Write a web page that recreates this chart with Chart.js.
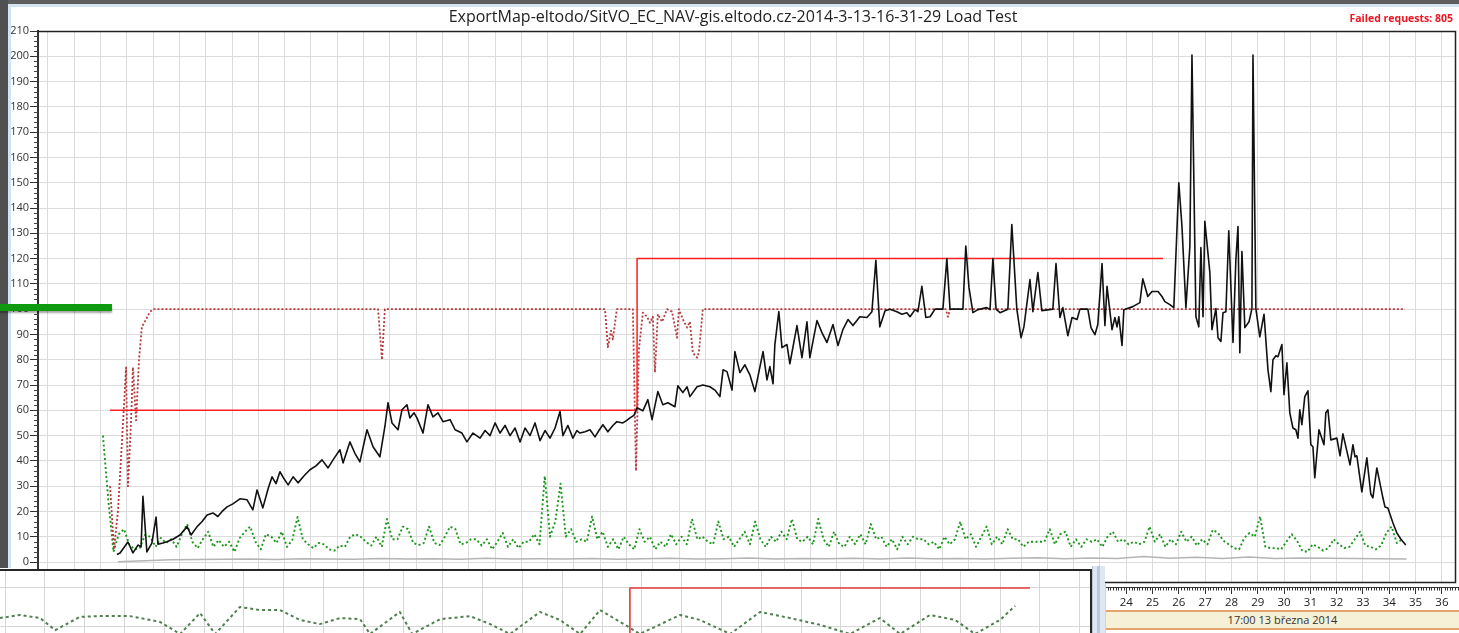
<!DOCTYPE html>
<html>
<head>
<meta charset="utf-8">
<script src="https://cdn.jsdelivr.net/npm/chart.js@4.4.1/dist/chart.umd.min.js"></script>
<style>
html,body{margin:0;padding:0;width:1459px;height:633px;overflow:hidden;background:#fff;}
#wrap{position:relative;width:1459px;height:633px;overflow:hidden;}
canvas{position:absolute;display:block;}
#main{left:0;top:0;}
.abs{position:absolute;}
#topbar{left:0;top:0;width:1459px;height:4px;background:#5e5e5e;}
#topline{left:0;top:4px;width:1459px;height:3px;background:#d2e3f3;}
#leftbar{left:0;top:0;width:8px;height:568px;background:#505050;}
#leftline{left:8px;top:4px;width:3px;height:564px;background:#d2e3f3;}
#failed{right:6px;top:11px;font:bold 10.5px 'Open Sans',sans-serif;color:#f0141e;white-space:nowrap;}
#greenbar{left:0;top:304px;width:112px;height:7px;background:#109a10;box-shadow:0 2px 2px rgba(0,0,0,0.35);}
#panelbox{left:0;top:569px;width:1090px;height:64px;background:#fff;border-top:2px solid #262626;border-right:2px solid #262626;}
#panel{left:0;top:571px;}
#splitter{left:1092px;top:566px;width:13px;height:67px;background:#dfe8f2;border-left:1px solid #b8c6d6;box-sizing:border-box;}
#splitter2{left:1097px;top:566px;width:3px;height:67px;background:#b9c8da;}
#rulerbg{left:1105px;top:584px;width:354px;height:49px;background:#fff;border-left:1px solid #c9d6e4;box-sizing:border-box;}
#ruler{left:1106px;top:584px;}
#band{left:1106px;top:610px;width:353px;height:16px;background:#f5f0d6;border-top:2px solid #e2a46c;border-bottom:2px solid #e2a46c;font:11px 'Open Sans',sans-serif;color:#333;text-align:center;line-height:16px;}
</style>
</head>
<body>
<div id="wrap">
<canvas id="main" width="1459" height="633"></canvas>
<div class="abs" id="topbar"></div>
<div class="abs" id="topline"></div>
<div class="abs" id="leftbar"></div>
<div class="abs" id="leftline"></div>
<div class="abs" id="failed">Failed requests: 805</div>
<div class="abs" id="greenbar"></div>
<div class="abs" id="panelbox"></div>
<canvas id="panel" width="1090" height="62"></canvas>
<div class="abs" id="splitter"></div>
<div class="abs" id="splitter2"></div>
<div class="abs" id="rulerbg"></div>
<div class="abs" id="band">17:00 13 března 2014</div>
<canvas id="ruler" width="353" height="26"></canvas>
</div>
<script>
// ---------------- data ----------------
const chartTitle = 'ExportMap-eltodo/SitVO_EC_NAV-gis.eltodo.cz-2014-3-13-16-31-29 Load Test';

// y-axis tick labels
const yTicks = [0,10,20,30,40,50,60,70,80,90,100,110,120,130,140,150,160,170,180,190,200,210];
// time ruler labels (minutes of 17:xx)
const rulerMinutes = [24,25,26,27,28,29,30,31,32,33,34,35,36];

// black series: response time (time in minutes, value)
const blackT = [2.62,2.74,3.04,3.23,3.42,3.54,3.61,3.76,3.95,4.11,4.18,4.37,4.52,4.75,5.02,5.29,5.44,5.67,5.86,6.05,
6.27,6.46,6.62,6.81,7.03,7.30,7.57,7.79,7.95,8.17,8.37,8.52,8.67,8.82,8.97,9.13,9.32,9.51,9.73,9.96,
10.19,10.42,10.65,10.84,11.10,11.22,11.48,11.67,11.86,12.13,12.36,12.62,12.81,12.93,13.08,13.31,13.46,13.65,13.76,13.92,
14.03,14.26,14.45,14.64,14.83,15.02,15.29,15.48,15.74,15.93,16.16,16.43,16.62,16.81,17.00,17.19,17.38,17.57,17.76,17.95,
18.14,18.33,18.52,18.71,18.90,19.09,19.28,19.47,19.58,19.77,19.96,20.11,20.23,20.42,20.61,20.80,20.95,21.10,21.29,21.48,
21.63,21.86,22.01,22.13,22.28,22.40,22.62,22.81,22.97,23.19,23.38,23.57,23.84,23.95,24.14,24.30,24.41,24.68,24.90,25.17,
25.36,25.55,25.67,25.82,26.01,26.12,26.31,26.50,26.69,26.88,27.19,27.34,27.45,27.57,27.64,27.79,27.91,28.10,28.21,28.48,
28.67,28.86,28.97,29.24,29.43,29.62,29.85,30.04,30.23,30.42,30.61,30.87,31.14,31.33,31.48,31.63,31.83,32.02,32.28,32.47,
32.66,32.78,32.97,33.08,33.23,33.38,33.54,33.73,34.03,34.18,34.30,34.79,34.90,35.02,35.17,35.36,35.70,35.82,35.93,36.05,
36.20,36.50,36.65,36.84,37.00,37.11,37.34,37.45,37.64,37.79,38.21,38.33,38.48,38.59,38.78,38.94,39.13,39.24,39.54,39.66,
39.81,39.92,40.08,40.19,40.27,40.46,40.57,40.65,40.72,40.84,40.91,41.25,41.52,41.63,41.82,41.98,42.21,42.36,42.47,42.66,
42.81,43.00,43.12,43.27,43.42,43.50,43.65,43.76,43.84,43.92,43.99,44.18,44.26,44.41,44.49,44.60,44.68,44.79,44.90,45.06,
45.17,45.25,45.32,45.40,45.51,45.67,45.78,45.82,45.93,46.08,46.24,46.39,46.50,46.58,46.69,46.77,46.92,47.00,47.11,47.22,
47.34,47.45,47.53,47.60,47.68,47.79,47.91,48.02,48.10,48.17,48.33,48.52,48.59,48.67,48.78,49.01,49.13,49.24,49.51,49.62,
49.70,49.77,49.96,50.15,50.30,50.38,50.53,50.76,50.84,50.95,51.14,51.29,51.44,51.63];
const blackV = [3,3.6,7.9,3.6,6.7,6,26,4,7.5,17.8,7,7.5,8,9,10.7,14,10.7,14,16,18.6,
19.4,18,20,21.8,23,25,24.6,20.6,28.5,21.4,29,33.7,31,35.7,33,30.5,33.7,31.3,34,36.5,
38,40.4,37.2,40.4,44.4,39.2,47.5,43,39.6,52.3,45.6,41.6,53.5,63,55,52.3,60.2,62.2,57,59,
57,51,62.2,57.4,59,55.5,56.3,52.3,51,47.5,51,49,52,50,55,51,54,50,53,47.5,
53,50,55,48,52,49,53,59.5,50,54,49,52,51,51.5,52.3,49.5,52,54.3,51.5,54,
55.5,55,56,57,58,61,59.8,64.2,56.3,67.4,62.2,63,61.4,69.7,67,69.3,65.4,69.3,70,69.3,
68,65.4,76,75.3,68,83.2,74.9,78,74,67.4,83.2,72,77.3,70.5,86,99,84.8,86,78.4,93.5,
80.8,95,80.8,95.5,90.7,86.8,93.9,85.6,92,95.9,93.5,97,96.7,99,119.3,93,99.4,100,99,98,
98.6,97,99.8,99,109,96.7,97,100,100,120,100,100,125,108.6,98.6,99.8,100.6,99.8,120,100,
98.6,100,133.5,100,88.7,93,111.7,99,114.5,99.4,100,118,96.7,100.6,89.5,96.7,95.9,100,100,92.7,
89.9,93.9,118,93.5,109,91.9,96.7,93,97,85.6,99.8,101,102.6,112,105,107,107,105,103,101.8,
100.6,150,132.7,100.6,124.8,200.5,97,93,124.4,97,134.7,114.5,91.9,100.2,88.7,87.2,98.6,99,131,86.8,
119.6,132.7,82.8,122.8,92.7,95,100.2,200.5,100.2,89,98,76,67.4,80,81.6,81.2,86,66.2,78.8,59,
53,52.3,49,60.2,54.3,65.4,67.7,46.4,45.6,33.3,52.3,46.4,59,60.2,48.3,49,42,50.7,38.4,46.4,
41.6,42,27.7,41.2,26.9,25.4,37.2,25.4,21.8,21.4,15.5,11.5,9.1,6.7];

// red solid series: target load (step)
const redT = [2.36,22.40,22.40,42.40];
const redV = [60,60,120,120];

// red dotted series
const redDashT = [2.36,2.51,2.66,2.81,2.97,3.04,3.16,3.23,3.35,3.46,3.57,3.73,3.88,4.03,12.55,12.70,12.81,
21.18,21.29,21.41,21.48,21.63,22.24,22.36,22.47,22.62,22.78,22.89,23.00,23.08,23.19,23.35,23.54,23.73,23.92,
23.99,24.14,24.30,24.41,24.52,24.68,24.75,24.90,34.14,34.22,34.30,51.60];
const redDashV = [30,5,20,47,77,30,56,77,56,80,93,96,99,100,100,80,100,
100,85,91.5,88,100,100,36,84,98.6,97,94.6,97,75,98,95,100,99,88.7,
100,96,92.7,95,82.8,80.8,82.8,100,100,97,100,100];

// green dotted series: sampled every 0.2 min
const greenStart = 2.09, greenStep = 0.2;
const greenV = [50,25,4,11,13,7,5,5.5,10.7,10,6,9.5,7.5,9,6,11,15,8,5.5,9,
12,6,8.7,6,8,4,9.5,12,14,8,5,11,10,7.5,12,6,8.7,17.8,9,7,
5.5,7.5,7,5,4.5,6.5,6,10,11,10,8,6.5,10,6,17,9,9,14,13,7.5,
6.7,7.5,14,7.5,6.7,10,14,13,7,7.5,9,9,
6.5,9,5,8,11.5,6,9,5.5,8,8,11,7,34,10,16,31,10,13,8,9,
8,18,9,12,6,9,5,10,7,5,13,8,10,5,8,6,11,7,10,7,
17,9,10,8,7,16,9,10,6,9,12,7,16,9,6,10,8,12,9,17,
9,8,10,7,17,9,6,12,7,6,10,7,11,7,15,9,10,6,9,5,
10,7,10,9,9,7,8,5,10,7,9,16,9,11,6,10,14,7,10,7,
13,9,9,6,8,8,8,8,13,7,11,12,6,9,6,9,8,9,6,10,
12,8,9,7,8,7,8,14,8,11,6,9,7,12,8,10,6.5,
9,7,12.7,11.5,8.5,7,5.5,5,9.5,11.5,10,18,6,5.5,5.5,5,8,11,8.5,4.5,
4,7,6,4.5,5.5,9,7,5.5,6,9,12,6.5,6,5,6.5,11.5,14,7.5,9];

// gray series: sampled every 1 min
const grayStart = 2.66, grayStep = 1;
const grayV = [0.1,0.5,0.9,1.0,1.1,1.2,1.0,1.3,1.2,1.1,1.4,1.2,1.3,1.1,1.5,1.2,1.3,1.2,1.4,1.1,
1.3,1.5,1.2,1.3,1.6,1.2,1.4,1.3,1.5,1.2,1.6,1.3,1.4,1.2,1.5,1.7,1.3,1.6,1.4,2.2,
1.5,1.9,1.4,2.0,1.4,1.6,1.5,1.4,1.3,1.2];

// lower overview panel
const panelRedX = [15.70,15.70,25.75];
const panelRedV = [-0.5,1,1];
const panelGreenX = [-0.13,0.38,0.88,1.26,1.88,2.39,3.14,3.89,4.40,4.90,5.28,5.90,6.41,6.91,7.41,7.91,8.42,8.92,9.17,9.92,
10.23,10.93,11.68,12.19,12.69,13.44,13.94,14.45,14.95,15.58,15.95,16.96,17.46,18.22,18.97,19.72,20.48,21.23,21.98,22.49,
23.24,23.87,24.37,25.0,25.38];
const panelGreenV = [0.21,0.29,0.21,-0.11,0.24,0.26,0.26,0.11,-0.21,0.34,-0.21,0.50,0.42,0.42,0.16,0.05,0.21,0.18,-0.21,0.37,
-0.21,0.18,0.26,0.05,-0.21,0.37,0.16,-0.21,0.42,0.03,-0.21,0.29,0.16,-0.21,0.37,0.21,0.03,-0.21,0.21,-0.21,
0.29,0.16,-0.21,0.16,0.53];

// ---------------- helpers ----------------
const pts = (xs, ys) => xs.map((x, i) => ({x: x, y: ys[i]}));
const sampled = (start, step, ys) => ys.map((y, i) => ({x: start + i * step, y: y}));
const intRange = (a, b) => { const r = []; for (let i = a; i <= b; i++) r.push(i); return r; };
const FONT = "'Open Sans', 'Noto Sans', sans-serif";

const framePlugin = {
  id: 'frame',
  afterDraw(chart) {
    const {ctx, chartArea: a} = chart;
    ctx.save();
    ctx.strokeStyle = '#222';
    ctx.lineWidth = 1.5;
    ctx.beginPath();
    ctx.moveTo(a.left, a.top + 0.5);
    ctx.lineTo(a.right - 0.5, a.top + 0.5);
    ctx.lineTo(a.right - 0.5, a.bottom - 0.5);
    ctx.lineTo(a.left, a.bottom - 0.5);
    ctx.stroke();
    const ys = chart.scales.y;
    ctx.strokeStyle = '#444';
    ctx.lineWidth = 1;
    const major = yTicks[1] - yTicks[0];
    const step = major / 5;
    for (let v = yTicks[0]; v <= yTicks[yTicks.length - 1]; v += step) {
      if (Math.abs(v % major) < 1e-6) continue;
      const py = Math.round(ys.getPixelForValue(v)) + 0.5;
      ctx.beginPath();
      ctx.moveTo(a.left - 4, py);
      ctx.lineTo(a.left, py);
      ctx.stroke();
    }
    ctx.restore();
  }
};

const rulerMinor = {
  id: 'rulerMinor',
  afterDraw(chart) {
    const {ctx} = chart;
    const s = chart.scales.x;
    ctx.save();
    ctx.strokeStyle = '#333';
    ctx.lineWidth = 1;
    const lo = Math.ceil(s.min * 10), hi = Math.floor(s.max * 10);
    for (let k = lo; k <= hi; k++) {
      if (k % 10 === 0) continue;
      const px = Math.round(s.getPixelForValue(k / 10)) + 0.5;
      ctx.beginPath();
      ctx.moveTo(px, s.top);
      ctx.lineTo(px, s.top + 3.5);
      ctx.stroke();
    }
    ctx.restore();
  }
};

const common = {
  responsive: false,
  animation: false,
  events: [],
  elements: {point: {radius: 0}, line: {tension: 0, borderJoinStyle: 'round'}},
};

// ---------------- main chart ----------------
new Chart(document.getElementById('main'), {
  type: 'line',
  data: {
    datasets: [
      {label: 'Response time', data: pts(blackT, blackV), borderColor: '#111', borderWidth: 1.6},
      {label: 'Target users', data: pts(redT, redV), borderColor: '#ff1e1e', borderWidth: 1.5},
      {label: 'Users', data: pts(redDashT, redDashV), borderColor: '#b5393b', borderWidth: 1.8, borderDash: [2, 2]},
      {label: 'Requests', data: sampled(greenStart, greenStep, greenV), borderColor: '#1a961a', borderWidth: 1.9, borderDash: [2, 2.5]},
      {label: 'Min', data: sampled(grayStart, grayStep, grayV), borderColor: '#b4b4b4', borderWidth: 1.4}
    ]
  },
  options: Object.assign({}, common, {
    layout: {padding: {left: 10, right: 3, top: 7, bottom: 50}},
    plugins: {
      legend: {display: false},
      tooltip: {enabled: false},
      title: {display: true, text: chartTitle, color: '#222',
        font: {family: FONT, size: 16, weight: 'normal', lineHeight: 1.2},
        padding: {top: 1, bottom: 3.8}}
    },
    scales: {
      x: {
        type: 'linear', min: -0.38, max: 53.54,
        afterBuildTicks(s) { s.ticks = intRange(0, 53).map(v => ({value: v})); },
        ticks: {display: false},
        grid: {color: '#dcdcdc', drawTicks: false},
        border: {display: false}
      },
      y: {
        min: -8.3, max: 210,
        afterBuildTicks(s) { s.ticks = yTicks.map(v => ({value: v})); },
        afterFit(s) { s.width = 28; },
        ticks: {color: '#333', padding: 1, autoSkip: false, font: {family: FONT, size: 11}},
        grid: {color: '#dcdcdc', tickColor: '#333', tickLength: 8},
        border: {color: '#333', width: 2}
      }
    }
  }),
  plugins: [framePlugin]
});

// ---------------- overview panel ----------------
new Chart(document.getElementById('panel'), {
  type: 'line',
  data: {
    datasets: [
      {data: pts(panelRedX, panelRedV), borderColor: '#e43b3b', borderWidth: 1.6},
      {data: pts(panelGreenX, panelGreenV), borderColor: '#4f7f4f', borderWidth: 2, borderDash: [3, 3]}
    ]
  },
  options: Object.assign({}, common, {
    layout: {padding: 0},
    plugins: {legend: {display: false}, tooltip: {enabled: false}},
    scales: {
      x: {
        type: 'linear', min: -0.126, max: 27.26,
        afterBuildTicks(s) { s.ticks = intRange(0, 27).map(v => ({value: v})); },
        afterFit(s) { s.height = 0; },
        ticks: {display: false}, grid: {color: '#d6d6d6', drawTicks: false}, border: {display: false}
      },
      y: {
        min: -0.184, max: 1.447,
        afterBuildTicks(s) { s.ticks = [{value: 0}, {value: 1}]; },
        afterFit(s) { s.width = 0; },
        ticks: {display: false}, grid: {color: '#d6d6d6', drawTicks: false}, border: {display: false}
      }
    }
  })
});

// ---------------- time ruler ----------------
new Chart(document.getElementById('ruler'), {
  type: 'line',
  data: {datasets: []},
  options: Object.assign({}, common, {
    layout: {padding: 0},
    plugins: {legend: {display: false}, tooltip: {enabled: false}},
    scales: {
      x: {
        type: 'linear', min: 23.23, max: 36.65,
        afterBuildTicks(s) { s.ticks = rulerMinutes.map(v => ({value: v})); },
        afterFit(s) { s.height = 23; },
        ticks: {color: '#222', padding: 2, autoSkip: false, maxRotation: 0, font: {family: FONT, size: 11.5}},
        grid: {drawOnChartArea: false, tickLength: 7, tickColor: '#333'},
        border: {color: '#333', width: 1}
      },
      y: {display: false}
    }
  }),
  plugins: [rulerMinor]
});
</script>
</body>
</html>
